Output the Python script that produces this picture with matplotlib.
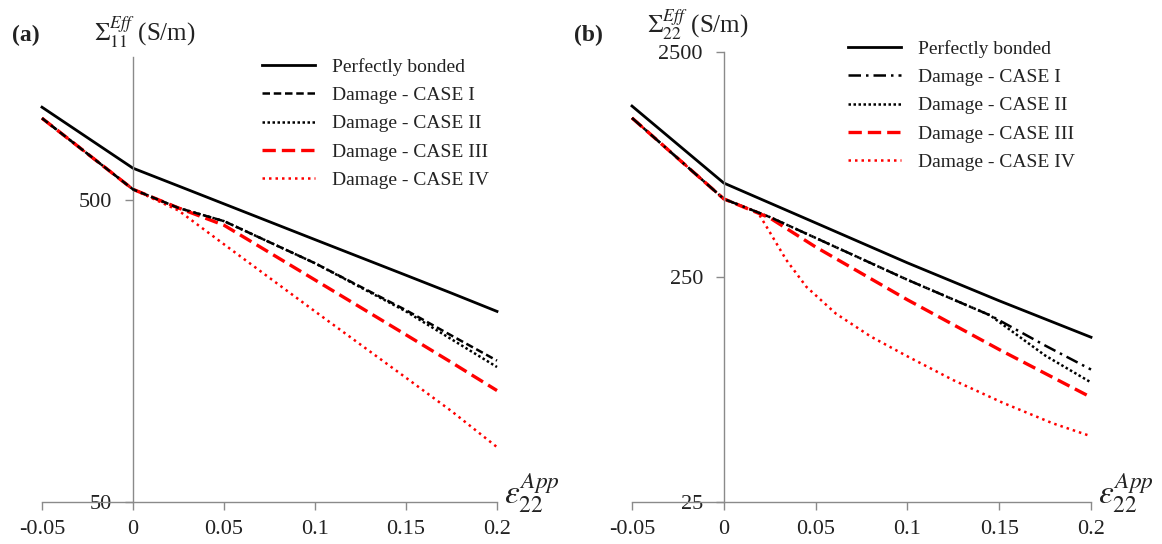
import matplotlib
matplotlib.use('Agg')
import matplotlib.pyplot as plt

plt.rcParams['font.family'] = ['Liberation Serif', 'DejaVu Serif']
plt.rcParams['mathtext.fontset'] = 'stix'

labels = ['Perfectly bonded', 'Damage - CASE I', 'Damage - CASE II',
          'Damage - CASE III', 'Damage - CASE IV']
xticks = [-0.05, 0, 0.05, 0.1, 0.15, 0.2]
xticklabels = ['-0.05', '0', '0.05', '0.1', '0.15', '0.2']

# panel (a): Sigma_11 (S/m)
xa = [-0.05, 0, 0.025, 0.05, 0.1, 0.15, 0.175, 0.2]
a_perfect = [1016, 638, 557, 486, 370, 282, 246, 214]
a_case1 = [934, 543, 471, 426, 309, 216, 178, 147]
a_case2 = [934, 543, 471, 426, 309, 214, 173, 140]
a_case3 = [934, 543, 471, 413, 272, 179, 145, 117]
a_case4 = [934, 543, 462, 357, 214, 129, 100, 76]

# panel (b): Sigma_22 (S/m)
xb_perfect = [-0.05, 0, 0.05, 0.1, 0.15, 0.2]
b_perfect = [1438, 654, 435, 289, 196, 135]
xb_case12 = [-0.05, 0, 0.025, 0.05, 0.1, 0.145, 0.175, 0.2]
b_case1 = [1273, 556, 462, 373, 243, 169, 124, 97]
b_case2 = [1273, 556, 462, 373, 243, 169, 112, 85]
xb_case3 = [-0.05, 0, 0.025, 0.05, 0.1, 0.15, 0.2]
b_case3 = [1273, 556, 458, 340, 198, 119, 73]
xb_case4 = [-0.05, 0, 0.0185, 0.0233, 0.034, 0.045, 0.061, 0.08, 0.1,
            0.125, 0.152, 0.179, 0.2]
b_case4 = [1273, 556, 485, 418, 298, 226, 172, 136, 111, 87, 69, 56, 49]

spine_col = '#8a8a8a'

fig = plt.figure(figsize=(11.62, 5.44), dpi=100)
ax_a = fig.add_axes([42/1162, 1-502/544, 455/1162, 445/544])
ax_b = fig.add_axes([632/1162, 1-502/544, 459/1162, 450/544])


def setup(ax, ylim, yticks, ylabel_txt, ylabel_pos, tag, tag_pos):
    ax.set_yscale('log')
    ax.set_xlim(-0.05, 0.2)
    ax.set_ylim(*ylim)
    for s in ['top', 'right']:
        ax.spines[s].set_visible(False)
    ax.spines['left'].set_position(('data', 0))
    for s in ['left', 'bottom']:
        ax.spines[s].set_color(spine_col)
        ax.spines[s].set_linewidth(1.0)
    ax.set_xticks(xticks)
    ax.set_xticklabels(xticklabels)
    ax.set_yticks(yticks)
    ax.set_yticklabels([str(t) for t in yticks])
    ax.yaxis.set_minor_locator(matplotlib.ticker.NullLocator())
    ax.tick_params(axis='both', colors=spine_col, labelcolor='#222222',
                   labelsize=16, length=6, width=1.0, direction='out')
    ax.tick_params(axis='x', pad=7)
    ax.tick_params(axis='y', pad=9)
    ax.patch.set_visible(False)
    ax.text(1.015, 0.02, r'$\varepsilon_{22}^{App}$', transform=ax.transAxes,
            fontsize=24, ha='left', va='center', color='#222222')
    fig.text(ylabel_pos[0]/1162, 1-ylabel_pos[1]/544, ylabel_txt,
             fontsize=18, ha='center', va='center', color='#222222')
    fig.text(tag_pos[0]/1162, 1-tag_pos[1]/544, tag, fontsize=17,
             fontweight='bold', ha='center', va='center', color='#222222')


setup(ax_a, (50, 1490), [50, 500], r'$\Sigma_{11}^{Eff}$ (S/m)', (145, 32),
      '(a)', (26, 35))
setup(ax_b, (25, 2500), [25, 250, 2500], r'$\Sigma_{22}^{Eff}$ (S/m)', (698, 25),
      '(b)', (588, 35))

lines_a = []
lines_a += ax_a.plot(xa, a_perfect, color='black', lw=2.0, ls='-', clip_on=False)
lines_a += ax_a.plot(xa, a_case1, color='black', lw=1.8, ls=(0, (3, 1.5)), clip_on=False)
lines_a += ax_a.plot(xa, a_case2, color='black', lw=1.8, ls=(0, (1, 1)), clip_on=False)
lines_a += ax_a.plot(xa, a_case3, color='red', lw=2.4, ls=(0, (4, 1.8)), clip_on=False)
lines_a += ax_a.plot(xa, a_case4, color='red', lw=1.8, ls=(0, (1, 1.6)), clip_on=False)

lines_b = []
lines_b += ax_b.plot(xb_perfect, b_perfect, color='black', lw=2.0, ls='-', clip_on=False)
lines_b += ax_b.plot(xb_case12, b_case1, color='black', lw=1.8, ls=(0, (5, 2, 1, 2)), clip_on=False)
lines_b += ax_b.plot(xb_case12, b_case2, color='black', lw=1.8, ls=(0, (1, 1)), clip_on=False)
lines_b += ax_b.plot(xb_case3, b_case3, color='red', lw=2.4, ls=(0, (4, 1.8)), clip_on=False)
lines_b += ax_b.plot(xb_case4, b_case4, color='red', lw=1.8, ls=(0, (1, 1.6)), clip_on=False)

# draw case I on top so it is not hidden by case II where they coincide
lines_a[1].set_zorder(3)
lines_b[1].set_zorder(3)

for ax, lns, anchor in [(ax_a, lines_a, (262, 58)), (ax_b, lines_b, (848, 40))]:
    ax.legend(lns, labels, loc='upper left',
              bbox_to_anchor=(anchor[0]/1162, 1-anchor[1]/544),
              bbox_transform=fig.transFigure, frameon=False, fontsize=14,
              handlelength=2.7, handletextpad=0.9, labelspacing=0.55,
              borderpad=0, borderaxespad=0, labelcolor='#222222')

fig.savefig('out.png', dpi=100)
